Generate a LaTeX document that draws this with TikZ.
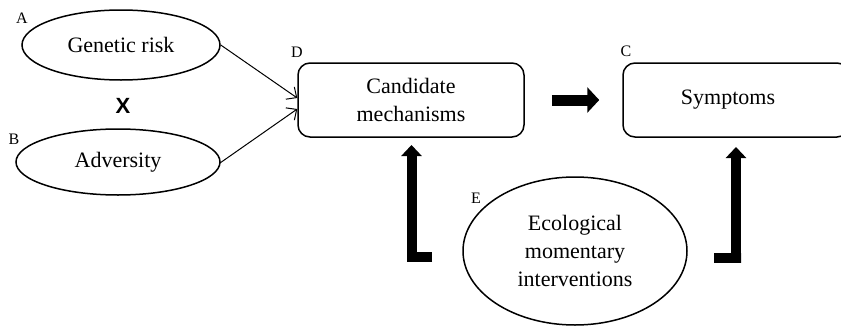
\documentclass[tikz,border=0pt]{standalone}
\usepackage{fontspec}
\setmainfont{Liberation Serif}
\newfontfamily\xsans{Liberation Sans}
\usetikzlibrary{shapes.geometric,arrows.meta}
\begin{document}
\begin{tikzpicture}[x=1pt,y=1pt,
  oval/.style={draw,line width=1.5pt,ellipse,inner sep=0pt,align=center,font=\fontsize{22}{28}\selectfont},
  rbox/.style={draw,line width=1.5pt,rectangle,rounded corners=12pt,inner sep=0pt,align=center,font=\fontsize{22}{28}\selectfont},
  lbl/.style={font=\fontsize{16}{16}\selectfont,inner sep=0pt},
  thinarrow/.style={line width=1pt,-{Straight Barb[length=8pt,width=15pt]}},
  bigarrow/.style={line width=10pt,-{Triangle[length=11pt,width=20pt]}},
  wide/.style={line width=11pt,-{Triangle[length=12pt,width=25pt]}}
]
\useasboundingbox (0,0) rectangle (841,-327);
\clip (0,0) rectangle (841,-327);
\node[oval,minimum width=198pt,minimum height=70pt] (A) at (121,-45) {Genetic risk};
\node[oval,minimum width=204pt,minimum height=66pt] (B) at (118,-162) {Adversity};
\node[rbox,minimum width=226pt,minimum height=74pt] (D) at (411,-100) {Candidate\\mechanisms};
\node[rbox,minimum width=226pt,minimum height=74pt] (C) at (736,-100) {};
\node[font=\fontsize{22}{28}\selectfont] (Ct) at (728,-100) {Symptoms};
\node[oval,minimum width=224pt,minimum height=148pt] (E) at (575,-251) {Ecological\\momentary\\interventions};
\node[lbl] (la) at (22,-18) {A};
\node[lbl] (lb) at (14,-139) {B};
\node[lbl] (ld) at (297,-52) {D};
\node[lbl] (lc) at (626,-51) {C};
\node[lbl] (le) at (476,-198) {E};
\node[font=\xsans\bfseries\fontsize{22}{22}\selectfont,inner sep=0pt] (x) at (123,-106) {X};
\coordinate (bs) at (220,-163);
\draw[thinarrow] (A.east) -- ([yshift=2pt]D.west);
\draw[thinarrow] (bs) -- ([yshift=-9pt]D.west);
\draw[wide] ([xshift=27pt]D.east) -- ([xshift=-23pt]C.west);
\coordinate (l1) at (432,-257);
\coordinate (l2) at (411.5,-257);
\coordinate (l3) at (411.5,-145);
\draw[bigarrow] (l1) -- ([xshift=-4.5pt]l2) -| (l3);
\coordinate (r1) at (714,-258);
\coordinate (r2) at (736,-258);
\coordinate (r3) at (736,-147);
\draw[bigarrow] (r1) -- ([xshift=5pt]r2) -| (r3);
\end{tikzpicture}
\end{document}
